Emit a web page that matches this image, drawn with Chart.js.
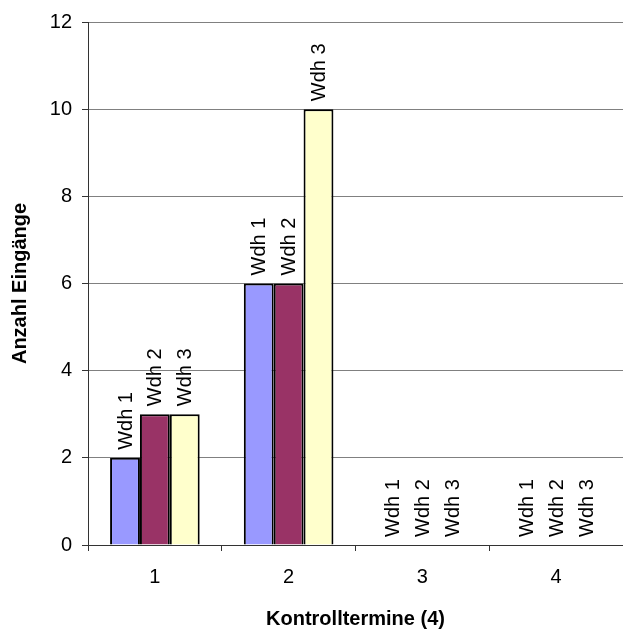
<!DOCTYPE html>
<html>
<head>
<meta charset="utf-8">
<script src="https://cdn.jsdelivr.net/npm/chart.js@4"></script>
<style>
  html, body { margin: 0; padding: 0; background: #ffffff; }
  #wrap { width: 623px; height: 635px; }
</style>
</head>
<body>
<div id="wrap"><canvas id="chart" width="623" height="635"></canvas></div>
<script>
// Data
const categories = ['1', '2', '3', '4'];
const seriesNames = ['Wdh 1', 'Wdh 2', 'Wdh 3'];
const wdh1 = [2, 6, 0, 0];
const wdh2 = [3, 6, 0, 0];
const wdh3 = [3, 10, 0, 0];
const yTicks = [0, 2, 4, 6, 8, 10, 12];

const colors = ['#9999ff', '#993366', '#ffffcc'];
const font = "'Liberation Sans', Arial, sans-serif";

// Draw series names rotated above each bar
const barLabels = {
    id: 'barLabels',
    afterDatasetsDraw(chart) {
        const ctx = chart.ctx;
        ctx.save();
        ctx.font = '20px ' + font;
        ctx.fillStyle = '#000000';
        ctx.textAlign = 'left';
        ctx.textBaseline = 'middle';
        chart.data.datasets.forEach((ds, i) => {
            const meta = chart.getDatasetMeta(i);
            meta.data.forEach(bar => {
                ctx.save();
                ctx.translate(bar.x, bar.y - 8);
                ctx.rotate(-Math.PI / 2);
                ctx.fillText(ds.label, 0, 1);
                ctx.restore();
            });
        });
        ctx.restore();
    }
};

const series = [wdh1, wdh2, wdh3];

new Chart(document.getElementById('chart'), {
    type: 'bar',
    data: {
        labels: categories,
        datasets: series.map((values, i) => ({
            label: seriesNames[i],
            data: values,
            backgroundColor: colors[i],
            borderColor: '#000000',
            borderWidth: 2,
            categoryPercentage: 0.67,
            barPercentage: 1.0
        }))
    },
    options: {
        responsive: false,
        animation: false,
        layout: { padding: { top: 19, right: 0, left: 0, bottom: 0 } },
        plugins: {
            legend: { display: false },
            tooltip: { enabled: false }
        },
        scales: {
            x: {
                offset: true,
                grid: {
                    offset: true,
                    drawOnChartArea: false,
                    tickLength: 6,
                    color: '#333333'
                },
                border: { color: '#333333', width: 1 },
                ticks: {
                    color: '#000000',
                    padding: 14,
                    font: { family: font, size: 20 }
                },
                title: {
                    display: true,
                    text: 'Kontrolltermine (4)',
                    color: '#000000',
                    font: { family: font, size: 20, weight: 'bold' },
                    padding: { top: 0, bottom: 4 }
                },
                afterFit(scale) { scale.height = 90; }
            },
            y: {
                min: 0,
                max: 12,
                afterBuildTicks(scale) { scale.ticks = yTicks.map(v => ({ value: v })); },
                grid: {
                    color: '#808080',
                    tickColor: '#333333',
                    tickLength: 6
                },
                border: { color: '#333333', width: 1 },
                ticks: {
                    color: '#000000',
                    padding: 10,
                    font: { family: font, size: 20 }
                },
                title: {
                    display: true,
                    text: 'Anzahl Eingänge',
                    color: '#000000',
                    font: { family: font, size: 20, weight: 'bold' },
                    padding: { top: 8, bottom: 0 }
                },
                afterFit(scale) { scale.width = 88; }
            }
        }
    },
    plugins: [barLabels]
});
</script>
</body>
</html>
